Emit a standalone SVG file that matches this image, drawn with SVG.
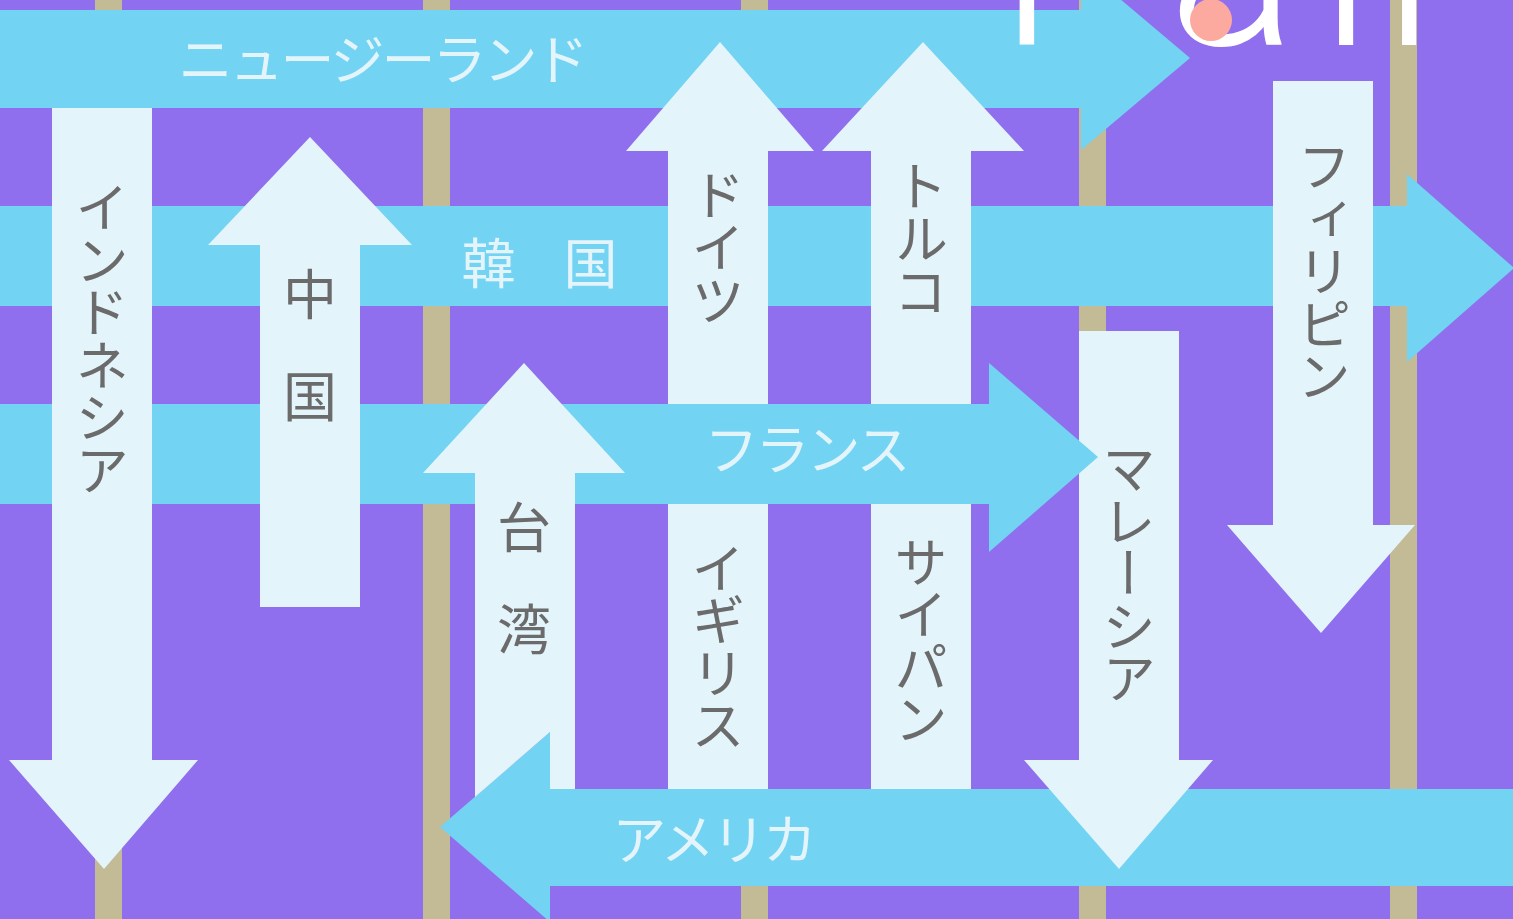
<svg xmlns="http://www.w3.org/2000/svg" width="1513" height="919" viewBox="0 0 1513 919">
<style>
.band{fill:#72D3F2}
.col{fill:#E3F4FB}
.stripe{fill:#C3BA96}
.hl{font-family:"Noto Sans CJK JP","Noto Sans CJK SC",sans-serif;font-size:54px;letter-spacing:-3px;fill:#E3F4FB;text-anchor:middle}
.vl{font-family:"Noto Sans CJK JP","Noto Sans CJK SC",sans-serif;font-size:54px;letter-spacing:-1.5px;fill:#6B6B6B;text-anchor:middle;writing-mode:vertical-rl}
.vk{letter-spacing:-3px}
.title{font-family:Roboto,"Liberation Sans",sans-serif;font-weight:300;font-size:240px;fill:#FFFFFF}
</style>
<rect x="0" y="0" width="1513" height="919" fill="#906FEE"/>
<g id="stripes">
<rect class="stripe" x="95" y="0" width="27" height="919"/>
<rect class="stripe" x="423" y="0" width="27" height="919"/>
<rect class="stripe" x="741" y="0" width="27" height="919"/>
<rect class="stripe" x="1079" y="0" width="27" height="919"/>
<rect class="stripe" x="1390" y="0" width="27" height="919"/>
</g>
<g id="connectors">
<g id="nz">
<polygon class="band" points="-5,10 1081,10 1081,-34 1190,58 1081,150 1081,108 -5,108"/>
<text class="hl" x="382" y="80">ニュージーランド</text>
</g>
<g id="korea">
<polygon class="band" points="-5,206 1407,206 1407,174 1514,268 1407,362 1407,306 -5,306"/>
<text class="hl" x="538" y="284">韓　国</text>
</g>
</g>
<g id="germany">
<polygon class="col" points="720,42 814,151 768,151 768,420 668,420 668,151 626,151"/>
<text class="vl" x="718" y="247">ドイツ</text>
</g>
<g id="turkey">
<polygon class="col" points="923,42 1024,151 971,151 971,420 871,420 871,151 822,151"/>
<text class="vl" x="921" y="238">トルコ</text>
</g>
<g id="philippines">
<polygon class="col" points="1273,81 1373,81 1373,525 1415,525 1321,633 1227,525 1273,525"/>
<text class="vl" x="1324" y="271">フィリピン</text>
</g>
<g id="uk">
<rect class="col" x="668" y="500" width="100" height="289"/>
<text class="vl" x="718" y="646">イギリス</text>
</g>
<g id="saipan">
<rect class="col" x="871" y="500" width="100" height="289"/>
<text class="vl" x="921" y="640">サイパン</text>
</g>
<g id="usa">
<polygon class="band" points="1520,789 550,789 550,732 440,827 550,922 550,886 1520,886"/>
<text class="hl" x="713" y="860">アメリカ</text>
</g>
<g id="malaysia">
<polygon class="col" points="1079,331 1179,331 1179,760 1213,760 1119,869 1024,760 1079,760"/>
<text class="vl" x="1129" y="573">マレーシア</text>
</g>
<g id="france">
<polygon class="band" points="-5,404 989,404 989,363 1098,457 989,552 989,504 -5,504"/>
<text class="hl" x="806" y="470">フランス</text>
</g>
<g id="indonesia">
<polygon class="col" points="52,108 152,108 152,760 198,760 104,869 9,760 52,760"/>
<text class="vl" x="102" y="338">インドネシア</text>
</g>
<g id="china">
<polygon class="col" points="310,137 412,245 360,245 360,607 260,607 260,245 208,245"/>
<text class="vl vk" x="310" y="344">中　国</text>
</g>
<g id="taiwan">
<polygon class="col" points="524,363 625,473 575,473 575,789 550,789 550,732 475,797 475,473 423,473"/>
<text class="vl vk" x="524" y="577">台　湾</text>
</g>
<g id="title">
<text class="title" x="998 1168 1319 1382" y="45">Fall</text>
<circle cx="1211" cy="20" r="21" fill="#FCA99F"/>
</g>
</svg>
